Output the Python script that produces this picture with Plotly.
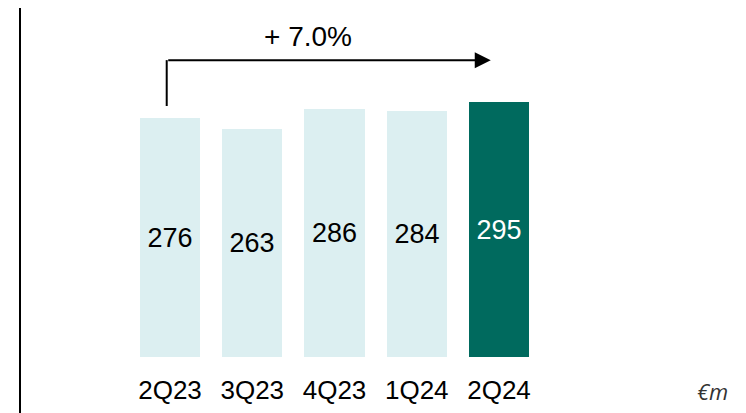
import plotly.graph_objects as go

quarters = ["2Q23", "3Q23", "4Q23", "1Q24", "2Q24"]
values = [276, 263, 286, 284, 295]
growth_label = "+ 7.0%"
unit_label = "€m"

light = "#DCEFF1"
dark = "#006A5E"
bar_colors = [light] * (len(values) - 1) + [dark]
text_colors = ["#000000"] * (len(values) - 1) + ["#FFFFFF"]

# page body adds an 8px margin, so the figure is drawn 8px smaller
W, H = 738, 405
step = 82.25          # px between bar centres
first_px = 162        # px of first bar centre
base_px = 349         # px of the zero line
px_per_unit = 0.8655
x0 = -first_px / step
x1 = x0 + W / step

fig = go.Figure()
fig.add_trace(
    go.Bar(
        x=list(range(len(quarters))),
        y=values,
        width=0.73,
        marker=dict(color=bar_colors, line=dict(width=0)),
        text=[str(v) for v in values],
        textposition="inside",
        insidetextanchor="middle",
        textfont=dict(family="Arial, Liberation Sans", size=27, color=text_colors),
        hoverinfo="skip",
    )
)

# growth arrow: from top of first bar, across to the last bar
arrow_y = 343
fig.add_shape(type="line", x0=-0.04, x1=-0.04, y0=290, y1=arrow_y,
              line=dict(color="black", width=2))
fig.add_annotation(
    x=3.9, y=arrow_y, ax=-0.04, ay=arrow_y, xref="x", yref="y", axref="x", ayref="y",
    showarrow=True, arrowhead=2, arrowsize=1.6, arrowwidth=2, arrowcolor="black", text="",
)
fig.add_annotation(
    x=1.68, y=370, text=growth_label, showarrow=False,
    font=dict(family="Arial, Liberation Sans", size=28, color="black"),
)

# left vertical rule
fig.add_shape(type="line", xref="paper", yref="paper",
              x0=12 / W, x1=12 / W, y0=1.0, y1=(base_px - H) / base_px,
              line=dict(color="black", width=2))

fig.add_annotation(
    xref="paper", yref="paper", x=704 / W, y=(base_px - 383) / base_px,
    xanchor="center", yanchor="middle",
    text=unit_label, showarrow=False,
    font=dict(family="Open Sans", size=22, color="#333333", style="italic"),
)

fig.update_layout(
    width=W, height=H,
    margin=dict(l=0, r=0, t=0, b=H - base_px),
    paper_bgcolor="white", plot_bgcolor="white",
    showlegend=False,
    bargap=0,
    xaxis=dict(
        range=[x0, x1], tickmode="array", tickvals=list(range(len(quarters))),
        ticktext=quarters, showgrid=False, zeroline=False, showline=False,
        ticks="", ticklabelstandoff=15,
        tickfont=dict(family="Arial, Liberation Sans", size=26, color="black"),
    ),
    yaxis=dict(range=[0, base_px / px_per_unit], visible=False, fixedrange=True),
)

fig.write_html("out.html")
